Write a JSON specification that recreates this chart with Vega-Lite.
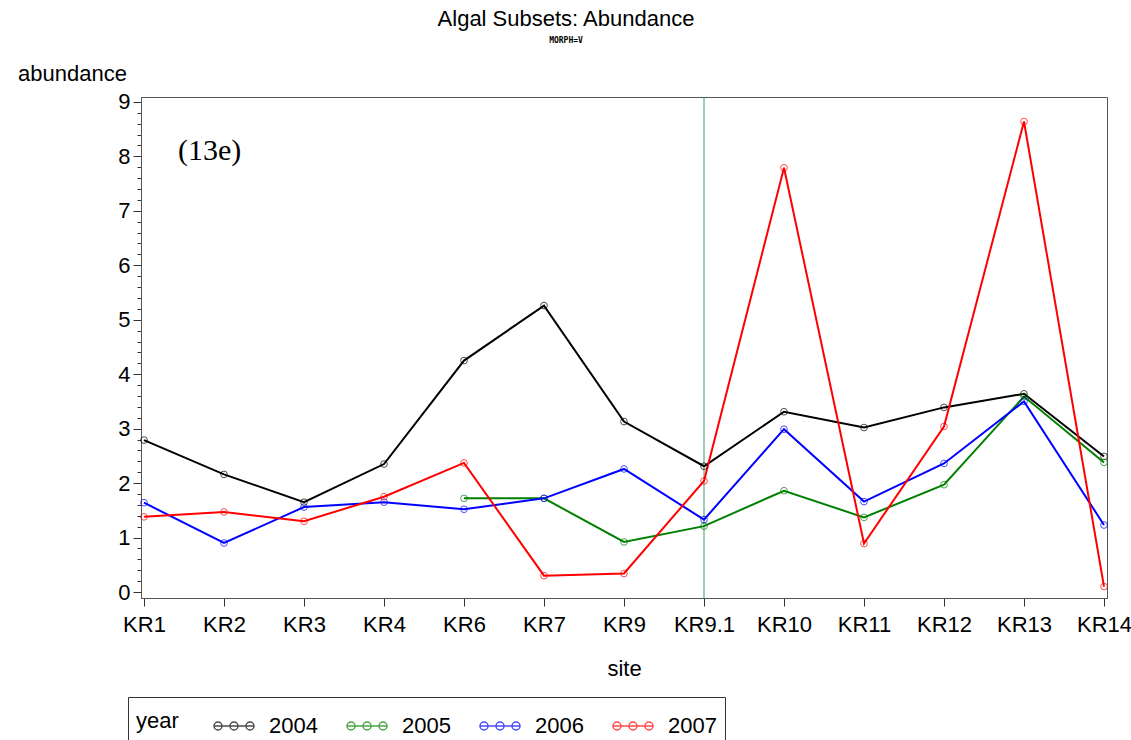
{
  "$schema": "https://vega.github.io/schema/vega-lite/v6.json",
  "width": 966,
  "height": 501,
  "autosize": {"type": "none"},
  "padding": {"left": 141, "top": 97, "right": 24, "bottom": 142},
  "background": "white",
  "config": {
    "font": "Liberation Sans",
    "view": {"stroke": "#555555", "strokeWidth": 1},
    "axis": {"domainColor": "#555555", "tickColor": "#333333", "grid": false, "labelColor": "black", "titleColor": "black", "titleFontWeight": "normal"}
  },
  "title": {
    "text": "Algal Subsets: Abundance",
    "subtitle": "MORPH=V",
    "fontSize": 22,
    "fontWeight": "normal",
    "font": "Liberation Sans",
    "subtitleFontSize": 8,
    "subtitleFontWeight": "bold",
    "subtitleFont": "DejaVu Sans Mono",
    "subtitlePadding": 6,
    "anchor": "middle",
    "dx": -58,
    "offset": 16,
    "color": "black",
    "subtitleColor": "black"
  },
  "datasets": {
    "abund": [
      {"site": "KR1", "year": "2004", "abundance": 2.79},
      {"site": "KR2", "year": "2004", "abundance": 2.16},
      {"site": "KR3", "year": "2004", "abundance": 1.65},
      {"site": "KR4", "year": "2004", "abundance": 2.35},
      {"site": "KR6", "year": "2004", "abundance": 4.25},
      {"site": "KR7", "year": "2004", "abundance": 5.26},
      {"site": "KR9", "year": "2004", "abundance": 3.13},
      {"site": "KR9.1", "year": "2004", "abundance": 2.31},
      {"site": "KR10", "year": "2004", "abundance": 3.31},
      {"site": "KR11", "year": "2004", "abundance": 3.02},
      {"site": "KR12", "year": "2004", "abundance": 3.39},
      {"site": "KR13", "year": "2004", "abundance": 3.64},
      {"site": "KR14", "year": "2004", "abundance": 2.49},
      {"site": "KR6", "year": "2005", "abundance": 1.72},
      {"site": "KR7", "year": "2005", "abundance": 1.72},
      {"site": "KR9", "year": "2005", "abundance": 0.92},
      {"site": "KR9.1", "year": "2005", "abundance": 1.21},
      {"site": "KR10", "year": "2005", "abundance": 1.86},
      {"site": "KR11", "year": "2005", "abundance": 1.37},
      {"site": "KR12", "year": "2005", "abundance": 1.97},
      {"site": "KR13", "year": "2005", "abundance": 3.59},
      {"site": "KR14", "year": "2005", "abundance": 2.38},
      {"site": "KR1", "year": "2006", "abundance": 1.64},
      {"site": "KR2", "year": "2006", "abundance": 0.9},
      {"site": "KR3", "year": "2006", "abundance": 1.56},
      {"site": "KR4", "year": "2006", "abundance": 1.65},
      {"site": "KR6", "year": "2006", "abundance": 1.52},
      {"site": "KR7", "year": "2006", "abundance": 1.72},
      {"site": "KR9", "year": "2006", "abundance": 2.26},
      {"site": "KR9.1", "year": "2006", "abundance": 1.33},
      {"site": "KR10", "year": "2006", "abundance": 2.99},
      {"site": "KR11", "year": "2006", "abundance": 1.66},
      {"site": "KR12", "year": "2006", "abundance": 2.36},
      {"site": "KR13", "year": "2006", "abundance": 3.5},
      {"site": "KR14", "year": "2006", "abundance": 1.23},
      {"site": "KR1", "year": "2007", "abundance": 1.38},
      {"site": "KR2", "year": "2007", "abundance": 1.47},
      {"site": "KR3", "year": "2007", "abundance": 1.3},
      {"site": "KR4", "year": "2007", "abundance": 1.75},
      {"site": "KR6", "year": "2007", "abundance": 2.37},
      {"site": "KR7", "year": "2007", "abundance": 0.3},
      {"site": "KR9", "year": "2007", "abundance": 0.34},
      {"site": "KR9.1", "year": "2007", "abundance": 2.04},
      {"site": "KR10", "year": "2007", "abundance": 7.79},
      {"site": "KR11", "year": "2007", "abundance": 0.89},
      {"site": "KR12", "year": "2007", "abundance": 3.04},
      {"site": "KR13", "year": "2007", "abundance": 8.64},
      {"site": "KR14", "year": "2007", "abundance": 0.1}
    ]
  },
  "encoding": {
    "x": {
      "field": "site",
      "type": "ordinal",
      "sort": ["KR1", "KR2", "KR3", "KR4", "KR6", "KR7", "KR9", "KR9.1", "KR10", "KR11", "KR12", "KR13", "KR14"],
      "scale": {"type": "point", "padding": 0.0375},
      "axis": {
        "title": "site",
        "titleFontSize": 22,
        "titlePadding": 23,
        "labelFontSize": 22,
        "labelAngle": 0,
        "labelOverlap": false,
        "labelBound": false,
        "tickSize": 8,
        "labelPadding": 8
      }
    },
    "y": {
      "field": "abundance",
      "type": "quantitative",
      "scale": {"domain": [-0.11, 9.09], "nice": false, "zero": false},
      "axis": {
        "title": "abundance",
        "titleFontSize": 22,
        "titleAngle": 0,
        "titleAlign": "center",
        "titleBaseline": "middle",
        "titleX": -69,
        "titleY": -24,
        "labelFontSize": 22,
        "labelPadding": 3,
        "labelOverlap": false,
        "values": [0, 0.2, 0.4, 0.6, 0.8, 1, 1.2, 1.4, 1.6, 1.8, 2, 2.2, 2.4, 2.6, 2.8, 3, 3.2, 3.4, 3.6, 3.8, 4, 4.2, 4.4, 4.6, 4.8, 5, 5.2, 5.4, 5.6, 5.8, 6, 6.2, 6.4, 6.6, 6.8, 7, 7.2, 7.4, 7.6, 7.8, 8, 8.2, 8.4, 8.6, 8.8, 9],
        "labelExpr": "datum.value % 1 === 0 ? format(datum.value, 'd') : ''",
        "tickSize": {"condition": {"test": "datum.value % 1 === 0", "value": 8}, "value": 4}
      }
    }
  },
  "layer": [
    {
      "data": {"values": [{}]},
      "mark": {"type": "rule", "color": "#3a9a6a", "strokeWidth": 1},
      "encoding": {"x": {"datum": "KR9.1"}, "y": {"value": 0}, "y2": {"value": 501}}
    },
    {
      "data": {"name": "abund"},
      "mark": {"type": "line", "strokeWidth": 2},
      "encoding": {
        "color": {
          "field": "year",
          "type": "nominal",
          "scale": {"domain": ["2004", "2005", "2006", "2007"], "range": ["#000000", "#008000", "#0000ff", "#ff0000"]},
          "legend": {
            "title": "year",
            "orient": "none",
            "legendX": -13,
            "legendY": 600,
            "direction": "horizontal",
            "titleOrient": "left",
            "titleFontSize": 22,
            "titleFontWeight": "normal",
            "titleColor": "black",
            "titlePadding": 34,
            "labelFontSize": 22,
            "labelColor": "black",
            "labelOffset": 14,
            "columnPadding": 26,
            "symbolSize": 1600,
            "symbolStrokeWidth": 1.5,
            "symbolFillColor": "transparent",
            "symbolType": "M-1,0H1M-0.6,0A0.2,0.2,0,1,1,-1,0A0.2,0.2,0,1,1,-0.6,0M0.2,0A0.2,0.2,0,1,1,-0.2,0A0.2,0.2,0,1,1,0.2,0M1,0A0.2,0.2,0,1,1,0.6,0A0.2,0.2,0,1,1,1,0",
            "strokeColor": "#333333",
            "fillColor": "white",
            "padding": 8
          }
        }
      }
    },
    {
      "data": {"name": "abund"},
      "mark": {"type": "point", "shape": "circle", "filled": false, "size": 45, "strokeWidth": 1},
      "encoding": {
        "color": {"field": "year", "type": "nominal"}
      }
    },
    {
      "data": {"values": [{"site": "KR1", "abundance": 8.1, "note": "(13e)"}]},
      "mark": {"type": "text", "font": "Liberation Serif", "fontSize": 30, "align": "left", "baseline": "middle", "dx": 34, "color": "black"},
      "encoding": {"text": {"field": "note", "type": "nominal"}}
    }
  ]
}
